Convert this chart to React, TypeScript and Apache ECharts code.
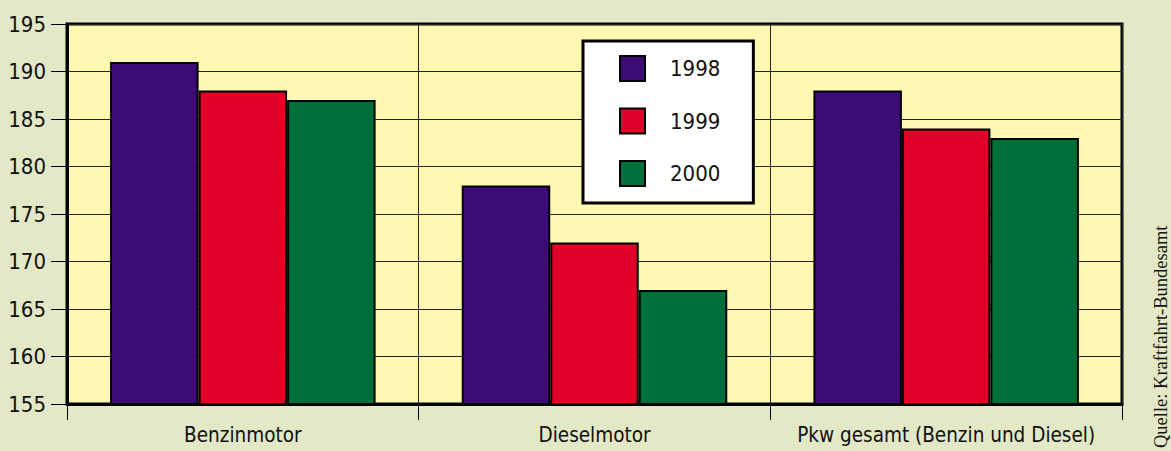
import React, { useEffect, useRef } from "react";
import * as echarts from "echarts";

const categories = ["Benzinmotor", "Dieselmotor", "Pkw gesamt (Benzin und Diesel)"];
const years = ["1998", "1999", "2000"];
const values1998 = [191, 178, 188];
const values1999 = [188, 172, 184];
const values2000 = [187, 167, 183];
const seriesColors = ["#3d0b78", "#e10028", "#00703a"];
const yTicks = { min: 155, max: 195, interval: 5 };
const sourceText = "Quelle: Kraftfahrt-Bundesamt";

const FONT = "'Liberation Sans Narrow', 'DejaVu Sans Condensed', 'Open Sans', sans-serif";

export default function App() {
  const ref = useRef<HTMLDivElement>(null);
  useEffect(() => {
    if (!ref.current) return;
    const chart = echarts.init(ref.current, null, { renderer: "svg" });
    const data = [values1998, values1999, values2000];
    chart.setOption({
      animation: false,
      backgroundColor: "#e3e8c7",
      grid: {
        left: 67,
        right: 49,
        top: 24,
        bottom: 47,
        show: true,
        backgroundColor: "#fff8b2",
        borderColor: "#000",
        borderWidth: 3,
        containLabel: false,
      },
      legend: {
        data: years,
        orient: "vertical",
        left: 583,
        top: 41,
        padding: [14, 33, 16, 36],
        itemWidth: 25,
        itemHeight: 25,
        itemGap: 25.5,
        icon: "rect",
        backgroundColor: "#ffffff",
        borderColor: "#000",
        borderWidth: 3,
        textStyle: { fontSize: 22, lineHeight: 25, fontFamily: FONT, color: "#111", padding: [0, 0, 0, 20] },
        selectedMode: false,
      },
      xAxis: {
        type: "category",
        data: categories,
        axisLine: { show: true, lineStyle: { color: "#000", width: 3 } },
        axisTick: { show: true, length: 16, lineStyle: { color: "#000", width: 1 } },
        splitLine: { show: true, lineStyle: { color: "#222", width: 1 } },
        axisLabel: { fontSize: 20.5, fontFamily: FONT, color: "#111", margin: 20, interval: 0 },
      },
      yAxis: {
        type: "value",
        min: yTicks.min,
        max: yTicks.max,
        interval: yTicks.interval,
        axisLine: { show: true, lineStyle: { color: "#000", width: 3 } },
        axisTick: { show: true, length: 16, lineStyle: { color: "#000", width: 1 } },
        splitLine: { show: true, lineStyle: { color: "#222", width: 1 } },
        axisLabel: { fontSize: 22, fontFamily: FONT, color: "#111", margin: 21 },
      },
      series: years.map((y, i) => ({
        name: y,
        type: "bar",
        data: data[i],
        barGap: "0%",
        barCategoryGap: "24.5%",
        itemStyle: { color: seriesColors[i], borderColor: "#000", borderWidth: 2 },
      })),
      graphic: [
        {
          type: "text",
          x: 1161,
          y: 448,
          rotation: Math.PI / 2,
          style: {
            text: sourceText,
            font: "18.5px 'Liberation Serif', 'DejaVu Serif', serif",
            fill: "#111",
            textAlign: "left",
            textVerticalAlign: "middle",
          },
        },
      ],
    });
    return () => chart.dispose();
  }, []);
  return (
    <div
      ref={ref}
      style={{ position: "fixed", left: 0, top: 0, width: 1171, height: 451 }}
    />
  );
}
